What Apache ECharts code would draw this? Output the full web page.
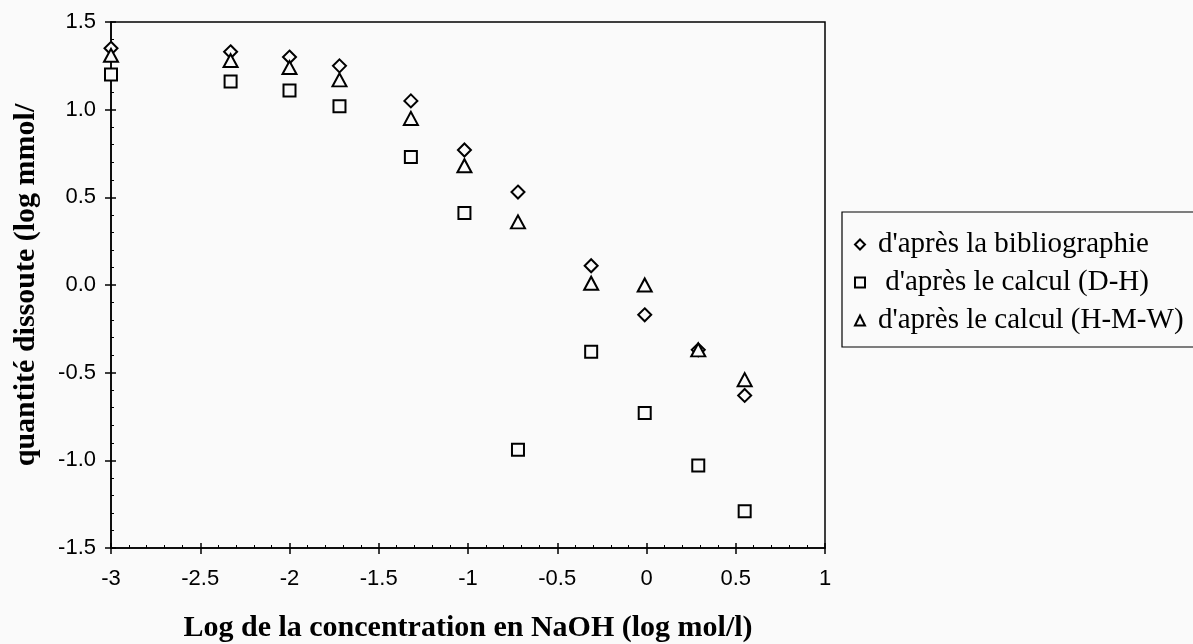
<!DOCTYPE html>
<html>
<head>
<meta charset="utf-8">
<script src="https://cdn.jsdelivr.net/npm/echarts@6/dist/echarts.min.js"></script>
<style>
html,body{margin:0;padding:0;background:#fafafa;}
#chart{width:1193px;height:644px;}
</style>
</head>
<body>
<div id="chart"></div>
<script>
const logNaOH = [-3, -2.33, -2.0, -1.72, -1.32, -1.02, -0.72, -0.31, -0.01, 0.29, 0.55];
const biblio  = [1.35, 1.33, 1.30, 1.25, 1.05, 0.77, 0.53, 0.11, -0.17, -0.37, -0.63];
const calcDH  = [1.20, 1.16, 1.11, 1.02, 0.73, 0.41, -0.94, -0.38, -0.73, -1.03, -1.29];
const calcHMW = [1.31, 1.28, 1.24, 1.17, 0.95, 0.68, 0.36, 0.01, 0.00, -0.37, -0.54];
const seriesNames = ["d'après la bibliographie", " d'après le calcul (D-H)", "d'après le calcul (H-M-W)"];
const xTitle = "Log de la concentration en NaOH (log mol/l)";
const yTitle = "quantité dissoute (log mmol/";

const pair = (ys) => logNaOH.map((x, i) => [x, ys[i]]);
const bg = '#fafafa';
const mk = (name, data, symbol, size) => ({
  name, type: 'scatter', data: pair(data), symbol, symbolSize: size,
  itemStyle: { color: bg, borderColor: '#000', borderWidth: 2, opacity: 1 },
  emphasis: { disabled: true }, z: 5
});

const tickFont = { fontFamily: 'Liberation Sans, Arial', fontSize: 22, color: '#000' };
const chart = echarts.init(document.getElementById('chart'));
chart.setOption({
  backgroundColor: bg,
  animation: false,
  grid: { left: 111, right: 368, top: 22, bottom: 96, containLabel: false, outerBoundsMode: 'none',
          show: true, borderColor: '#000', borderWidth: 1.5, backgroundColor: 'transparent' },
  legend: {
    orient: 'vertical', left: 842, top: 212, align: 'left',
    padding: [18, 22, 12, 12], itemGap: 9, itemWidth: 10, itemHeight: 10,
    borderColor: '#000', borderWidth: 1.2, backgroundColor: bg,
    textStyle: { fontFamily: 'Liberation Serif, Times New Roman', fontSize: 29, color: '#000', lineHeight: 29, padding: [0, 0, 0, 8] },
    itemStyle: { borderWidth: 2, borderColor: '#000', color: bg },
    data: seriesNames, selectedMode: false
  },
  xAxis: [
    { type: 'value', min: -3, max: 1, interval: 0.5, position: 'bottom',
      name: xTitle, nameLocation: 'middle', nameGap: 65,
      nameTextStyle: { fontFamily: 'Liberation Serif, Times New Roman', fontWeight: 'bold', fontSize: 30, color: '#000' },
      axisLine: { show: true, onZero: false, lineStyle: { color: '#000', width: 1.5 } },
      axisTick: { show: true, inside: false, length: 6, lineStyle: { color: '#000', width: 1.5 } },
      axisLabel: Object.assign({ margin: 20, formatter: v => String(v) }, tickFont),
      splitLine: { show: false } },
    { type: 'value', min: -3, max: 1, interval: 0.5, position: 'bottom',
      axisLine: { show: false, onZero: false },
      axisTick: { show: true, inside: true, length: 5, lineStyle: { color: '#000', width: 1.5 } },
      minorTick: { show: true, splitNumber: 5, length: 3, lineStyle: { color: '#000', width: 1 } },
      axisLabel: { show: false }, splitLine: { show: false } }
  ],
  yAxis: [
    { type: 'value', min: -1.5, max: 1.5, interval: 0.5, position: 'left',
      name: yTitle, nameLocation: 'middle', nameGap: 70,
      nameTextStyle: { fontFamily: 'Liberation Serif, Times New Roman', fontWeight: 'bold', fontSize: 30, color: '#000' },
      axisLine: { show: true, onZero: false, lineStyle: { color: '#000', width: 1.5 } },
      axisTick: { show: true, inside: false, length: 6, lineStyle: { color: '#000', width: 1.5 } },
      axisLabel: Object.assign({ margin: 15, formatter: v => v.toFixed(1) }, tickFont),
      splitLine: { show: false } },
    { type: 'value', min: -1.5, max: 1.5, interval: 0.5, position: 'left',
      axisLine: { show: false, onZero: false },
      axisTick: { show: true, inside: true, length: 5, lineStyle: { color: '#000', width: 1.5 } },
      minorTick: { show: true, splitNumber: 5, length: 3, lineStyle: { color: '#000', width: 1 } },
      axisLabel: { show: false }, splitLine: { show: false } }
  ],
  series: [
    mk(seriesNames[0], biblio, 'diamond', [13, 13]),
    mk(seriesNames[1], calcDH, 'rect', [12, 12]),
    mk(seriesNames[2], calcHMW, 'triangle', [14, 13])
  ]
});
</script>
</body>
</html>
